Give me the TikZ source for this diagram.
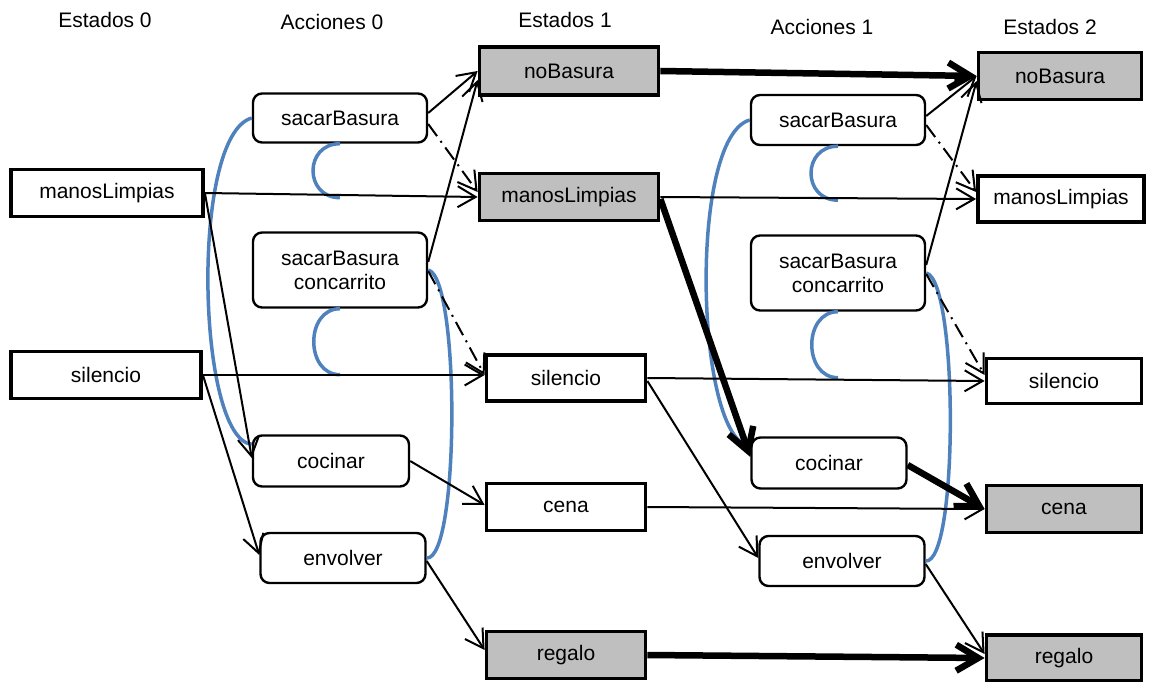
\documentclass[tikz,border=0pt]{standalone}
\usepackage{fontspec}
\setmainfont{Liberation Sans}
\usetikzlibrary{arrows.meta,calc}
\definecolor{mblue}{RGB}{79,129,189}
\definecolor{sgray}{RGB}{191,191,191}
\begin{document}
\begin{tikzpicture}[x=1pt,y=-1pt,
  font=\fontsize{21}{24}\selectfont,
  statebox/.style={draw, line width=3.8pt, inner sep=0pt, align=center, fill=white},
  graybox/.style={statebox, fill=sgray},
  actbox/.style={draw, line width=2.4pt, rounded corners=9pt, inner sep=0pt, align=center, fill=white},
  header/.style={inner sep=0pt},
  conn/.style={line width=2pt, -{Straight Barb[length=18pt,width=21pt]}},
  thickconn/.style={line width=6.5pt, -{Straight Barb[length=22pt,width=26pt]}},
  delconn/.style={conn, dash pattern=on 15pt off 6pt on 2pt off 6pt},
  mutex/.style={draw=mblue, line width=3.5pt}
]
\useasboundingbox (0,0) rectangle (1159,682);

% headers
\node[header] (h0) at (105,20) {Estados 0};
\node[header] (h1) at (332,22) {Acciones 0};
\node[header] (h2) at (565,20) {Estados 1};
\node[header] (h3) at (822,27) {Acciones 1};
\node[header] (h4) at (1050,27) {Estados 2};

% Estados 0
\node[statebox, minimum width=192pt, minimum height=47pt] (ml0) at (107,193) {manosLimpias};
\node[statebox, minimum width=190pt, minimum height=47pt] (si0) at (106,375) {silencio};

% Acciones 0
\node[actbox, minimum width=174pt, minimum height=49pt] (sb0) at (340,118) {sacarBasura};
\node[actbox, minimum width=174pt, minimum height=75pt] (sbc0) at (340,270) {sacarBasura\\concarrito};
\node[actbox, minimum width=156pt, minimum height=51pt] (coc0) at (331,461) {cocinar};
\node[actbox, minimum width=165pt, minimum height=50pt] (env0) at (343,558) {envolver};

% Estados 1
\node[graybox, minimum width=179pt, minimum height=48pt] (nb1) at (569,71) {noBasura};
\node[graybox, minimum width=179pt, minimum height=47pt] (ml1) at (569,197) {manosLimpias};
\node[statebox, minimum width=159pt, minimum height=46pt] (si1) at (566,378) {silencio};
\node[statebox, minimum width=159pt, minimum height=47pt] (ce1) at (566,507) {cena};
\node[graybox, minimum width=159pt, minimum height=47pt] (re1) at (566,655) {regalo};

% Acciones 1
\node[actbox, minimum width=174pt, minimum height=50pt] (sb1) at (838,120) {sacarBasura};
\node[actbox, minimum width=174pt, minimum height=75pt] (sbc1) at (838,273) {sacarBasura\\concarrito};
\node[actbox, minimum width=155pt, minimum height=51pt] (coc1) at (829,463) {cocinar};
\node[actbox, minimum width=165pt, minimum height=50pt] (env1) at (842,561) {envolver};

% Estados 2
\node[graybox, minimum width=163pt, minimum height=47pt] (nb2) at (1060,76) {noBasura};
\node[statebox, minimum width=166pt, minimum height=46pt] (ml2) at (1061,199) {manosLimpias};
\node[statebox, minimum width=155pt, minimum height=45pt] (si2) at (1064,381) {silencio};
\node[graybox, minimum width=155pt, minimum height=47pt] (ce2) at (1064,509) {cena};
\node[graybox, minimum width=155pt, minimum height=46pt] (re2) at (1064,658) {regalo};

% mutex marks (blue)
\draw[mutex] (sb0.west) .. controls +(-62,17) and +(-55,-5) .. ([yshift=-10pt]coc0.north west);
\draw[mutex] (sbc0.east) .. controls +(32,7) and +(33,2) .. (env0.east);
\coordinate (m0a) at ($(sb0.south)+(0,54)$);
\draw[mutex] (sb0.south) .. controls +(-36,0) and +(-36,0) .. (m0a);
\coordinate (m0b) at ($(sbc0.south)+(0,66)$);
\draw[mutex] (sbc0.south) .. controls +(-35,0) and +(-35,0) .. (m0b);

\draw[mutex] (sb1.west) .. controls +(-62,17) and +(-55,-5) .. ([yshift=-10pt]coc1.north west);
\draw[mutex] (sbc1.east) .. controls +(32,7) and +(33,2) .. (env1.east);
\coordinate (m1a) at ($(sb1.south)+(0,54)$);
\draw[mutex] (sb1.south) .. controls +(-36,0) and +(-36,0) .. (m1a);
\coordinate (m1b) at ($(sbc1.south)+(0,66)$);
\draw[mutex] (sbc1.south) .. controls +(-35,0) and +(-35,0) .. (m1b);

% Estados 0 -> ...
\draw[conn] (ml0.east) -- (ml1.west);
\draw[conn] (ml0.east) -- ([yshift=3pt]coc0.west);
\draw[conn] (si0.east) -- ([yshift=3pt]si1.west);
\draw[conn] (si0.east) -- ([yshift=3pt]env0.west);

% Acciones 0 -> Estados 1
\draw[conn] ([yshift=5pt]sb0.east) -- (nb1.west);
\draw[delconn] ([yshift=-6pt]sb0.east) -- ([yshift=5pt]ml1.west);
\draw[conn] ([yshift=8pt]sbc0.east) -- ([yshift=-9pt]nb1.west);
\draw[delconn] ([yshift=-1pt]sbc0.east) -- ([yshift=3pt]si1.west);
\draw[conn] (coc0.east) -- ([yshift=2pt]ce1.west);
\draw[conn] ([yshift=-3pt]env0.east) -- ([yshift=5pt]re1.west);

% Estados 1 -> ...
\draw[thickconn] (nb1.east) -- (nb2.west);
\draw[conn] (ml1.east) -- (ml2.west);
\draw[thickconn] ([yshift=-2pt]ml1.east) -- ([yshift=6pt]coc1.west);
\draw[conn] (si1.east) -- (si2.west);
\draw[conn] ([yshift=-3pt]si1.east) -- ([yshift=3pt]env1.west);
\draw[conn] (ce1.east) -- (ce2.west);
\draw[thickconn] (re1.east) -- (re2.west);

% Acciones 1 -> Estados 2
\draw[conn] ([yshift=4pt]sb1.east) -- (nb2.west);
\draw[delconn] ([yshift=-5pt]sb1.east) -- ([yshift=7pt]ml2.west);
\draw[conn] ([yshift=8pt]sbc1.east) -- ([yshift=-5pt]nb2.west);
\draw[delconn] ([yshift=-1pt]sbc1.east) -- ([yshift=6pt]si2.west);
\draw[thickconn] ([yshift=-2pt]coc1.east) -- (ce2.west);
\draw[conn] ([yshift=-3pt]env1.east) -- ([yshift=4pt]re2.west);
\end{tikzpicture}
\end{document}
